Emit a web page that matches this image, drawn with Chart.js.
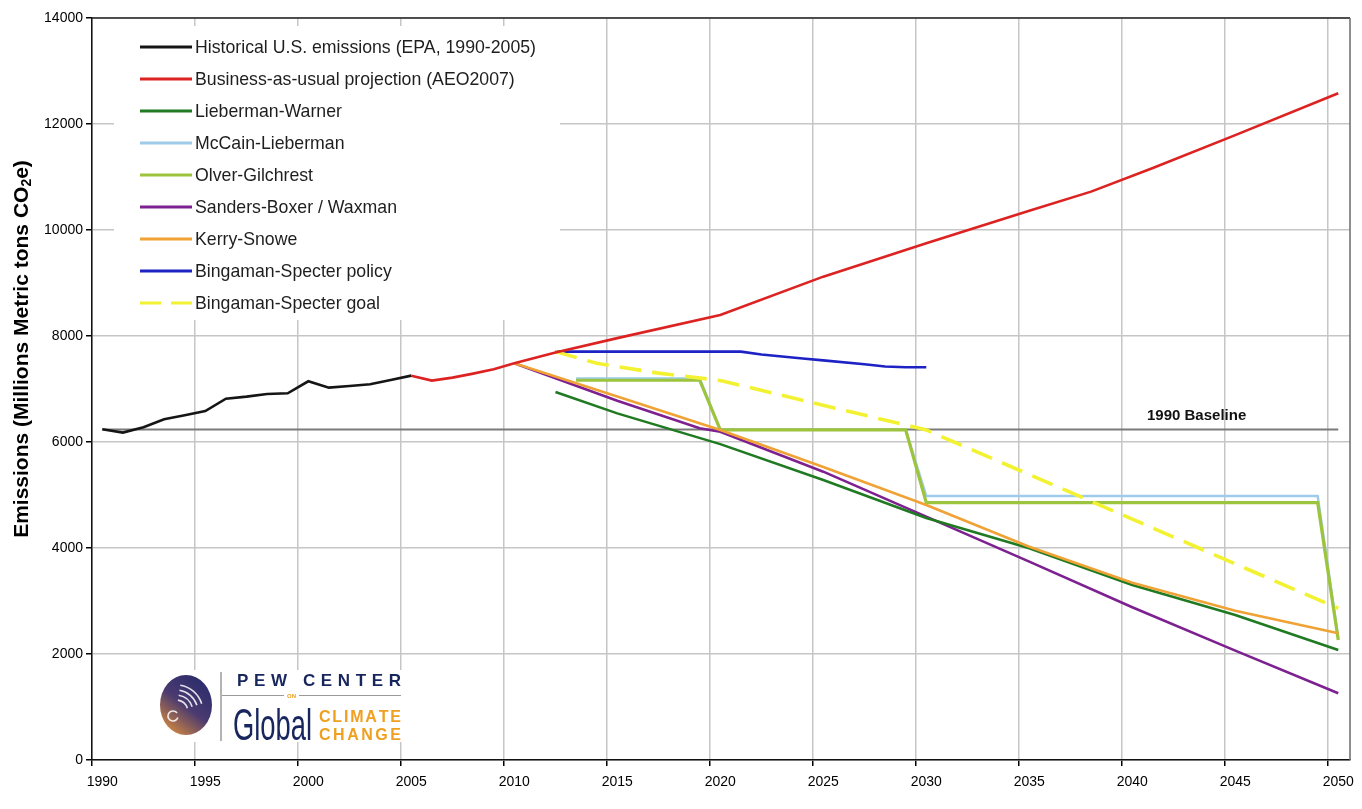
<!DOCTYPE html>
<html lang="en">
<head>
<meta charset="UTF-8">
<title>U.S. emissions under climate bills</title>
<script src="https://cdn.jsdelivr.net/npm/chart.js"></script>
<style>
  body { margin: 0; background: #fff; }
  #wrap { width: 1362px; height: 809px; }
</style>
</head>
<body>
<div id="wrap"><canvas id="emissions" width="1362" height="809"></canvas></div>
<script>
// values, million metric tons CO2e
const xTickLabels = ['1990', '1995', '2000', '2005', '2010', '2015', '2020', '2025', '2030', '2035', '2040', '2045', '2050'];
const yTickStep = 2000;

const histYears = [1990, 1991, 1992, 1993, 1994, 1995, 1996, 1997, 1998, 1999, 2000, 2001, 2002, 2003, 2004, 2005];
const histValues = [6240, 6177, 6280, 6429, 6504, 6585, 6818, 6856, 6906, 6919, 7146, 7026, 7057, 7089, 7171, 7252];

const bauYears = [2005, 2006, 2007, 2008, 2009, 2010, 2012, 2015, 2020, 2025, 2030, 2035, 2038, 2041, 2045, 2050];
const bauValues = [7252, 7158, 7215, 7290, 7372, 7485, 7690, 7960, 8397, 9120, 9750, 10365, 10724, 11170, 11790, 12581];

const lwYears = [2012, 2015, 2020, 2025, 2030, 2035, 2040, 2045, 2050];
const lwValues = [6944, 6540, 5960, 5284, 4566, 3994, 3302, 2736, 2076];

const mlYears = [2013, 2019, 2020, 2029, 2030, 2049, 2050];
const mlValues = [7200, 7200, 6230, 6230, 4981, 4981, 2300];

const ogYears = [2013, 2019, 2020, 2029, 2030, 2049, 2050];
const ogValues = [7165, 7165, 6230, 6230, 4855, 4855, 2264];

const sbYears = [2010, 2015, 2019, 2020, 2025, 2030, 2035, 2040, 2045, 2050];
const sbValues = [7485, 6780, 6259, 6195, 5440, 4591, 3742, 2881, 2063, 1258];

const ksYears = [2010, 2015, 2020, 2025, 2030, 2035, 2040, 2045, 2050];
const ksValues = [7485, 6860, 6227, 5530, 4812, 4025, 3346, 2817, 2390];

const bspYears = [2012, 2021, 2022, 2024, 2025, 2027, 2028, 2029, 2030];
const bspValues = [7705, 7705, 7650, 7575, 7540, 7467, 7425, 7410, 7410];

const bsgYears = [2012, 2014, 2017, 2020, 2030, 2040, 2045, 2050];
const bsgValues = [7705, 7485, 7300, 7160, 6227, 4545, 3700, 2862];

const baselineYears = [1990, 2050];
const baselineValues = [6235, 6235];

function pts(xs, ys) {
    return xs.map((x, i) => ({ x: x, y: ys[i] }));
}

function line(label, xs, ys, color, width, order, extra) {
    return Object.assign({
        label: label,
        data: pts(xs, ys),
        borderColor: color,
        backgroundColor: color,
        borderWidth: width,
        pointRadius: 0,
        tension: 0,
        fill: false,
        order: order
    }, extra || {});
}

const datasets = [
    line('Historical U.S. emissions (EPA, 1990-2005)', histYears, histValues, '#151515', 2.6, 1),
    line('Business-as-usual projection (AEO2007)', bauYears, bauValues, '#dd2222', 2.6, 1),
    line('Lieberman-Warner', lwYears, lwValues, '#1f7a22', 2.6, 3),
    line('McCain-Lieberman', mlYears, mlValues, '#9fcbea', 2.5, 5),
    line('Olver-Gilchrest', ogYears, ogValues, '#9cc43c', 3.2, 4),
    line('Sanders-Boxer / Waxman', sbYears, sbValues, '#7d2090', 2.6, 3),
    line('Kerry-Snowe', ksYears, ksValues, '#f0a235', 2.6, 2),
    line('Bingaman-Specter policy', bspYears, bspValues, '#1d22c4', 2.6, 2),
    line('Bingaman-Specter goal', bsgYears, bsgValues, '#f3f232', 3.6, 1, { borderDash: [22, 11] }),
    line('1990 Baseline', baselineYears, baselineValues, '#7a7a7a', 2, 9, { hideInLegend: true })
];

const SANS = '"Liberation Sans", Arial, sans-serif';

// letters spread evenly between two x positions
function spaced(ctx, text, left, right, base) {
    const chars = text.split('');
    const widths = chars.map(c => ctx.measureText(c).width);
    const total = widths.reduce((a, b) => a + b, 0);
    const gap = (right - left - total) / (chars.length - 1);
    let x = left;
    chars.forEach((c, i) => {
        ctx.fillText(c, x, base);
        x += widths[i] + gap;
    });
}

const overlay = {
    id: 'overlay',
    afterDraw(chart) {
        const ctx = chart.ctx;
        const a = chart.chartArea;
        ctx.save();

        // top and right frame
        ctx.lineWidth = 1.5;
        ctx.strokeStyle = '#222';
        ctx.beginPath(); ctx.moveTo(a.left, a.top); ctx.lineTo(a.right, a.top); ctx.stroke();
        ctx.strokeStyle = '#6a6a6a';
        ctx.beginPath(); ctx.moveTo(a.right, a.top); ctx.lineTo(a.right, a.bottom); ctx.stroke();

        // baseline label
        ctx.fillStyle = '#111';
        ctx.font = 'bold 15px ' + SANS;
        ctx.textBaseline = 'alphabetic';
        ctx.fillText('1990 Baseline', 1147, 420);

        // legend
        ctx.fillStyle = '#fff';
        ctx.fillRect(114, 26, 446, 294);
        ctx.font = '19px ' + SANS;
        ctx.textBaseline = 'middle';
        const items = chart.data.datasets.filter(ds => !ds.hideInLegend);
        const sx = 341 / ctx.measureText(items[0].label).width;
        items.forEach((ds, row) => {
            const yy = 47 + row * 32;
            ctx.strokeStyle = ds.borderColor;
            ctx.lineWidth = 3;
            ctx.setLineDash(ds.borderDash ? [21, 10] : []);
            ctx.beginPath(); ctx.moveTo(140, yy); ctx.lineTo(192, yy); ctx.stroke();
            ctx.setLineDash([]);
            ctx.save();
            ctx.translate(195, yy + 1);
            ctx.scale(sx, 1);
            ctx.fillStyle = '#1e1e1e';
            ctx.fillText(ds.label, 0, 0);
            ctx.restore();
        });

        // y title with subscript
        ctx.translate(22, 349);
        ctx.rotate(-Math.PI / 2);
        ctx.fillStyle = '#000';
        ctx.textBaseline = 'middle';
        const big = 'bold 21px ' + SANS, small = 'bold 14px ' + SANS;
        const p1 = 'Emissions (Millions Metric tons CO', p2 = '2', p3 = 'e)';
        ctx.font = big; const w1 = ctx.measureText(p1).width, w3 = ctx.measureText(p3).width;
        ctx.font = small; const w2 = ctx.measureText(p2).width;
        let tx = -(w1 + w2 + w3) / 2;
        ctx.font = big; ctx.fillText(p1, tx, 0); tx += w1;
        ctx.font = small; ctx.fillText(p2, tx, 5); tx += w2;
        ctx.font = big; ctx.fillText(p3, tx, 0);
        ctx.setTransform(1, 0, 0, 1, 0, 0);

        // Pew Center logo
        ctx.fillStyle = '#fff';
        ctx.fillRect(158, 670, 245, 72);
        ctx.save();
        ctx.beginPath();
        ctx.ellipse(186, 705, 26, 30, 0, 0, Math.PI * 2);
        const g = ctx.createLinearGradient(206, 680, 166, 732);
        g.addColorStop(0, '#2a2c6c');
        g.addColorStop(0.5, '#4a3a70');
        g.addColorStop(1, '#d98b3c');
        ctx.fillStyle = g;
        ctx.fill();
        ctx.clip();
        ctx.strokeStyle = 'rgba(255,255,255,0.85)';
        ctx.lineWidth = 1.6;
        [12, 17, 22, 27].forEach(r => {
            ctx.beginPath();
            ctx.arc(176, 712, r, -Math.PI * 0.45, -Math.PI * 0.1);
            ctx.stroke();
        });
        ctx.beginPath();
        ctx.arc(173, 716, 5, 0.3, Math.PI * 1.8);
        ctx.stroke();
        ctx.restore();

        ctx.strokeStyle = '#9a9a9a';
        ctx.lineWidth = 1.5;
        ctx.beginPath(); ctx.moveTo(221, 672); ctx.lineTo(221, 741); ctx.stroke();
        ctx.lineWidth = 1;
        ctx.beginPath(); ctx.moveTo(222, 695.5); ctx.lineTo(284, 695.5); ctx.stroke();
        ctx.beginPath(); ctx.moveTo(299, 695.5); ctx.lineTo(401, 695.5); ctx.stroke();

        ctx.textBaseline = 'alphabetic';
        ctx.fillStyle = '#18265e';
        ctx.font = 'bold 17px ' + SANS;
        spaced(ctx, 'PEW CENTER', 237, 401, 686);
        ctx.fillStyle = '#f0a020';
        ctx.font = 'bold 6px ' + SANS;
        ctx.fillText('ON', 287, 698);
        ctx.font = 'bold 16px ' + SANS;
        spaced(ctx, 'CLIMATE', 319, 401, 722);
        spaced(ctx, 'CHANGE', 319, 401, 740);
        ctx.fillStyle = '#18265e';
        ctx.font = '44px ' + SANS;
        const gw = ctx.measureText('Global').width;
        ctx.translate(233, 740);
        ctx.scale(79 / gw, 1);
        ctx.fillText('Global', 0, 0);
        ctx.restore();
    }
};

new Chart(document.getElementById('emissions').getContext('2d'), {
    type: 'line',
    data: { datasets: datasets },
    options: {
        responsive: false,
        animation: false,
        devicePixelRatio: 1,
        layout: { padding: { top: 18, right: 12, left: 0, bottom: 0 } },
        plugins: {
            legend: { display: false },
            tooltip: { enabled: false }
        },
        scales: {
            x: {
                type: 'linear',
                min: 1989.5,
                max: 2050.57,
                afterBuildTicks: axis => {
                    axis.ticks = xTickLabels.map(l => ({ value: Number(l) - 0.5 }));
                },
                afterFit: s => { s.height = 49; },
                grid: { color: '#c6c6c6', lineWidth: 1.5, tickColor: '#000', tickLength: 6 },
                border: { display: true, color: '#111', width: 1.5 },
                ticks: {
                    color: '#000',
                    font: { family: SANS, size: 14 },
                    padding: 8,
                    labelOffset: 10.3,
                    maxRotation: 0,
                    autoSkip: false,
                    callback: v => String(v + 0.5)
                }
            },
            y: {
                min: 0,
                max: 14000,
                afterFit: s => { s.width = 92; },
                grid: { color: '#c6c6c6', lineWidth: 1.5, tickColor: '#000', tickLength: 6 },
                border: { display: true, color: '#111', width: 1.5 },
                ticks: {
                    stepSize: yTickStep,
                    color: '#000',
                    font: { family: SANS, size: 14 },
                    padding: 3,
                    callback: v => String(v)
                }
            }
        }
    },
    plugins: [overlay]
});
</script>
</body>
</html>
